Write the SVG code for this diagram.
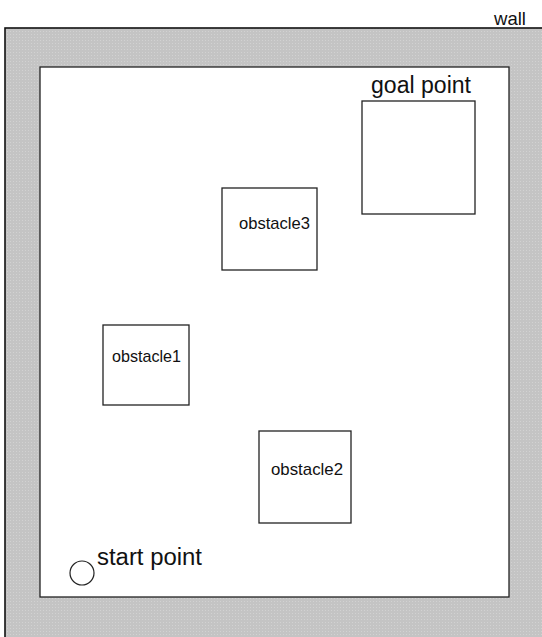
<svg xmlns="http://www.w3.org/2000/svg" width="542" height="637" viewBox="0 0 542 637">
<defs>
<pattern id="dots" width="3" height="3" patternUnits="userSpaceOnUse">
<rect width="3" height="3" fill="#c4c4c4"/>
<rect x="1" y="1" width="1" height="1" fill="#d2d2d2"/>
</pattern>
<style>
.box{fill:#fff;stroke:#222;stroke-width:1.3}
.t{font-family:"Liberation Sans",Arial,sans-serif;fill:#111}
.small{font-size:17px}
.big{font-size:23px}
</style>
</defs>
<rect width="542" height="637" fill="#fff"/>
<g id="wall">
<rect x="5" y="28" width="600" height="700" fill="url(#dots)" stroke="#111" stroke-width="1.6"/>
<rect x="40" y="67" width="469" height="530" class="box" stroke-width="1.6"/>
<text class="t" x="494" y="25" font-size="19px" textLength="32" lengthAdjust="spacingAndGlyphs">wall</text>
</g>
<g id="goal">
<rect x="362" y="101" width="113" height="113" class="box"/>
<text class="t big" x="371" y="93" textLength="100" lengthAdjust="spacingAndGlyphs">goal point</text>
</g>
<g id="obstacle3">
<rect x="222" y="188" width="95" height="82" class="box"/>
<text class="t small" x="239" y="229" textLength="71" lengthAdjust="spacingAndGlyphs">obstacle3</text>
</g>
<g id="obstacle1">
<rect x="103" y="325" width="86" height="80" class="box"/>
<text class="t small" x="112" y="362" textLength="69" lengthAdjust="spacingAndGlyphs">obstacle1</text>
</g>
<g id="obstacle2">
<rect x="259" y="431" width="92" height="92" class="box"/>
<text class="t small" x="271" y="475" textLength="72" lengthAdjust="spacingAndGlyphs">obstacle2</text>
</g>
<g id="start">
<circle cx="82" cy="573" r="12" fill="#fff" stroke="#222" stroke-width="1.2"/>
<text class="t big" x="97" y="565" textLength="105" lengthAdjust="spacingAndGlyphs">start point</text>
</g>
<g id="connectors"/>
</svg>
